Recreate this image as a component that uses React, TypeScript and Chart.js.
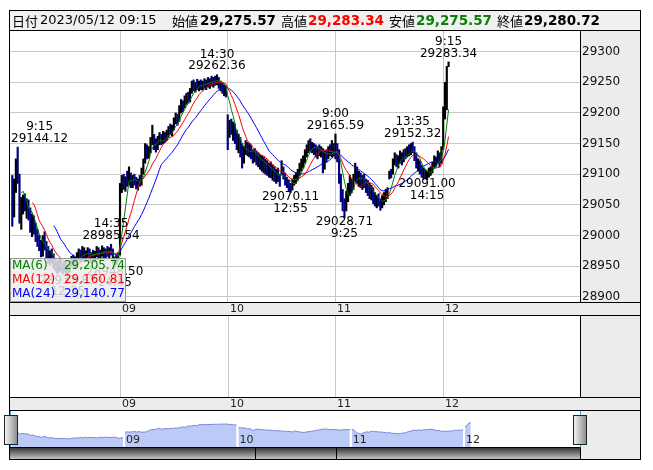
import { useEffect, useRef } from 'react';
import { Chart, registerables } from 'chart.js';

Chart.register(...registerables);

const W = 653;
const H = 470;
const FONT = '"DejaVu Sans", Verdana, sans-serif';
const JP = '"Noto Sans CJK JP", "DejaVu Sans", sans-serif';

// ---- header (latest bar) ----
const headerDate = '2023/05/12 09:15';
const headerOpen = '29,275.57';
const headerHigh = '29,283.34';
const headerLow = '29,275.57';
const headerClose = '29,280.72';

// ---- axis labels ----
const dayLabels = ['09', '10', '11', '12'];
const dayStartIndex = [60, 120, 180, 240];
const yTicks = [28900, 28950, 29000, 29050, 29100, 29150, 29200, 29250, 29300];

// ---- 5-minute bars, 2023/05/08 .. 2023/05/12 ----
const firstOpen = 29090;
const d08High = [29098,29092,29125,29144.12,29100,29062,29066,29068,29060,29058,29045,29035,29032,29020,29010,29000,28992,29000,29006,28990,28982,28975,28978,28970,28962,28958,28960,28962,28955,28958,28956,28950,28958,28966,28968,28965,28972,28978,28976,28982,28980,28975,28980,28978,28972,28976,28974,28982,28980,28976,28983,28980,28978,28982,28980,28985.54,28978,28965,28968,28972];
const d08Low = [29015,29030,29070,29085,29020,29010,29035,29040,29028,29025,29005,28998,29002,28990,28982,28975,28965,28966,28976,28962,28955,28952,28955,28946,28942,28938,28940,28942,28937,28940,28936,28933.83,28940,28948,28950,28946,28955,28960,28956,28958,28962,28958,28963,28960,28955,28958,28956,28965,28962,28960,28966,28964,28962,28966,28962,28968,28955,28948.5,28952,28958];
const d08Close = [29040,29085,29110,29095,29035,29050,29058,29045,29052,29035,29012,29025,29008,28998,28992,28980,28972,28995,28985,28968,28960,28970,28958,28952,28948,28944,28955,28946,28950,28945,28940,28945,28955,28962,28956,28960,28968,28972,28962,28978,28966,28970,28976,28965,28968,28962,28972,28978,28968,28974,28978,28970,28975,28970,28978,28974,28960,28955,28962,28966];

const d09High = [29085,29098,29100,29096,29105,29112,29102,29098,29100,29095,29092,29098,29110,29125,29150,29148,29145,29160,29180,29165,29158,29162,29168,29165,29170,29168,29172,29178,29182,29180,29192,29200,29198,29212,29222,29220,29228,29232,29234,29240,29252,29254,29250,29255,29252,29254,29252,29256,29254,29258,29256,29260,29258,29260,29262.36,29258,29252,29250,29246,29244];
const d09Low = [28968,29070,29075,29072,29080,29082,29078,29078,29082,29076,29074,29080,29082,29100,29118,29125,29126,29135,29148,29140,29136,29140,29148,29148,29150,29152,29155,29160,29165,29162,29172,29182,29180,29186,29200,29202,29208,29214,29216,29218,29232,29236,29234,29238,29236,29238,29237,29240,29238,29242,29240,29244,29242,29245,29246,29240,29236,29232,29228,29226];
const d09Close = [29078,29090,29082,29092,29088,29100,29085,29094,29090,29080,29088,29084,29105,29120,29142,29132,29140,29155,29168,29148,29145,29156,29160,29152,29165,29158,29168,29172,29170,29176,29188,29195,29185,29208,29215,29210,29222,29226,29220,29236,29246,29240,29246,29242,29248,29244,29250,29246,29252,29248,29254,29250,29255,29252,29258,29245,29248,29238,29240,29232];

const d10High = [29197,29188,29190,29185,29182,29172,29165,29160,29150,29145,29155,29152,29150,29148,29140,29142,29138,29135,29132,29130,29128,29125,29122,29118,29120,29115,29112,29108,29110,29100,29122,29112,29102,29095,29090,29085,29092,29098,29102,29108,29118,29125,29130,29140,29148,29155,29158,29152,29150,29148,29145,29148,29145,29142,29138,29140,29145,29148,29155,29150];
const d10Low = [29140,29160,29165,29155,29150,29140,29135,29128,29110,29118,29132,29130,29128,29125,29118,29120,29115,29112,29108,29105,29102,29100,29098,29095,29094,29090,29088,29085,29088,29080,29100,29092,29082,29078,29072,29070.11,29074,29082,29085,29090,29098,29105,29110,29118,29128,29135,29138,29135,29132,29128,29125,29130,29128,29102,29108,29120,29125,29130,29128,29130];
const d10Close = [29170,29182,29170,29178,29160,29150,29158,29135,29120,29140,29148,29138,29145,29132,29125,29135,29122,29128,29115,29120,29110,29118,29105,29110,29100,29105,29095,29100,29092,29088,29110,29098,29090,29084,29078,29076,29088,29092,29098,29104,29112,29120,29125,29135,29142,29150,29145,29148,29140,29135,29142,29138,29140,29125,29132,29128,29138,29135,29140,29136];

const d11High = [29165.59,29150,29140,29100,29075,29060,29072,29085,29098,29092,29100,29118,29112,29105,29102,29098,29100,29092,29090,29085,29082,29078,29070,29065,29068,29060,29065,29070,29075,29078,29105,29108,29125,29135,29132,29130,29138,29135,29140,29142,29145,29148,29150,29152.32,29145,29135,29125,29122,29115,29110,29108,29105,29110,29112,29120,29130,29128,29138,29135,29145];
const d11Low = [29125,29120,29085,29055,29040,29028.71,29040,29055,29065,29070,29075,29088,29085,29080,29078,29075,29078,29070,29065,29060,29058,29052,29048,29045,29048,29041,29045,29050,29055,29060,29092,29094,29100,29115,29112,29110,29118,29115,29120,29125,29128,29130,29132,29135,29122,29110,29105,29100,29095,29092,29093,29091,29095,29098,29102,29110,29112,29118,29112,29118];
const d11Close = [29140,29135,29095,29065,29050,29045,29065,29078,29090,29080,29095,29105,29092,29098,29085,29090,29082,29078,29075,29068,29075,29060,29055,29062,29052,29048,29058,29062,29070,29072,29100,29098,29120,29128,29118,29125,29130,29122,29135,29132,29140,29138,29145,29140,29128,29115,29118,29108,29100,29105,29098,29102,29105,29108,29115,29125,29120,29130,29120,29140];

const d12High = [29210,29250,29276,29283.34];
const d12Low = [29140,29190,29205,29275.57];
const d12Close = [29195,29222,29275.57,29280.72];

// ---- swing high / low annotations ----
const swingBar = [3, 31, 55, 57, 114, 155, 180, 185, 223, 231, 243];
const swingTime = ['9:15', '12:35', '14:35', '14:45', '14:30', '12:55', '9:00', '9:25', '13:35', '14:15', '9:15'];
const swingPrice = [29144.12, 28933.83, 28985.54, 28948.5, 29262.36, 29070.11, 29165.59, 29028.71, 29152.32, 29091.0, 29283.34];
const swingIsHigh = [true, false, true, false, true, false, true, false, true, false, true];

// ---- moving averages legend ----
const maPeriods = [6, 12, 24];
const maNames = ['MA(6)', 'MA(12)', 'MA(24)'];
const maLegendValues = ['29,205.74', '29,160.81', '29,140.77'];
const maColors = ['#008000', '#ff0000', '#0000ff'];

const highs = [...d08High, ...d09High, ...d10High, ...d11High, ...d12High];
const lows = [...d08Low, ...d09Low, ...d10Low, ...d11Low, ...d12Low];
const closes = [...d08Close, ...d09Close, ...d10Close, ...d11Close, ...d12Close];
const opens = closes.map((_, i) => (i === 0 ? firstOpen : closes[i - 1]));

function movingAverage(values: number[], n: number) {
  return values.map((_, i) => {
    if (i < n - 1) return null;
    let s = 0;
    for (let k = i - n + 1; k <= i; k++) s += values[k];
    return s / n;
  });
}

function line(ctx: CanvasRenderingContext2D, x1: number, y1: number, x2: number, y2: number) {
  ctx.beginPath();
  ctx.moveTo(x1, y1);
  ctx.lineTo(x2, y2);
  ctx.stroke();
}

const framePlugin = {
  id: 'frame',
  beforeDraw(chart: any) {
    const ctx: CanvasRenderingContext2D = chart.ctx;
    ctx.save();
    ctx.fillStyle = '#ffffff';
    ctx.fillRect(0, 0, W, H);
    ctx.fillStyle = '#f0f0f0';
    ctx.fillRect(10, 11, 630, 19);
    ctx.fillStyle = '#ececec';
    ctx.fillRect(581, 31, 59, 271);
    ctx.fillRect(10, 303, 630, 12);
    ctx.fillRect(581, 316, 59, 81);
    ctx.fillRect(10, 398, 630, 12);
    ctx.fillRect(581, 411, 59, 48);
    const g = ctx.createLinearGradient(0, 448, 0, 459);
    g.addColorStop(0, '#383838');
    g.addColorStop(1, '#c4c4c4');
    ctx.fillStyle = g;
    ctx.fillRect(10, 448, 570, 11);

    // header text
    ctx.textBaseline = 'middle';
    ctx.textAlign = 'left';
    const ty = 21;
    const seg = (t: string, x: number, font: string, color: string) => {
      ctx.font = font;
      ctx.fillStyle = color;
      ctx.fillText(t, x, ty);
    };
    const lab = `13px ${JP}`;
    const val = `bold 13.5px ${FONT}`;
    seg('日付', 12, lab, '#000');
    seg(headerDate, 40, `13px ${FONT}`, '#000');
    seg('始値', 172, lab, '#000');
    seg(headerOpen, 200, val, '#000');
    seg('高値', 281, lab, '#000');
    seg(headerHigh, 308, val, '#ff0000');
    seg('安値', 389, lab, '#000');
    seg(headerLow, 416, val, '#0a800a');
    seg('終値', 497, lab, '#000');
    seg(headerClose, 524, val, '#000');
    ctx.restore();
  },
  afterDatasetsDraw(chart: any) {
    const ctx: CanvasRenderingContext2D = chart.ctx;
    const xs = chart.scales.x;
    const ys = chart.scales.y;
    const area = chart.chartArea;
    ctx.save();
    ctx.font = `12px ${FONT}`;
    ctx.fillStyle = '#000';
    ctx.textAlign = 'center';
    ctx.textBaseline = 'middle';
    swingBar.forEach((b, k) => {
      const px = xs.getPixelForValue(b);
      const py = ys.getPixelForValue(swingPrice[k]);
      const pText = swingPrice[k].toFixed(2);
      const tText = swingTime[k];
      const w = Math.max(ctx.measureText(pText).width, ctx.measureText(tText).width);
      let cx = px;
      if (cx - w / 2 < area.left + 1) cx = area.left + 1 + w / 2;
      if (cx + w / 2 > area.right - 1) cx = area.right - 1 - w / 2;
      if (swingIsHigh[k]) {
        ctx.fillText(tText, cx, py - 20);
        ctx.fillText(pText, cx, py - 8.5);
      } else {
        ctx.fillText(pText, cx, py + 4.5);
        ctx.fillText(tText, cx, py + 16);
      }
    });

    // MA legend box
    ctx.fillStyle = 'rgba(236,236,236,0.84)';
    ctx.fillRect(10.5, 258.5, 115, 43);
    ctx.strokeStyle = '#9a9a9a';
    ctx.lineWidth = 1;
    ctx.strokeRect(10.5, 258.5, 115, 43);
    const rows = [266, 280, 294];
    maNames.forEach((n, k) => {
      ctx.fillStyle = maColors[k];
      ctx.textAlign = 'left';
      ctx.fillText(n, 12, rows[k]);
      ctx.textAlign = 'right';
      ctx.fillText(maLegendValues[k], 125, rows[k]);
    });
    ctx.restore();
  },
  afterDraw(chart: any) {
    const ctx: CanvasRenderingContext2D = chart.ctx;
    const xs = chart.scales.x;
    ctx.save();
    // panel 2 grid
    ctx.strokeStyle = '#c8c8c8';
    ctx.lineWidth = 1;
    dayStartIndex.forEach((d) => {
      const x = Math.round(xs.getPixelForValue(d)) + 0.5;
      line(ctx, x, 316, x, 397);
    });
    // frame lines
    ctx.strokeStyle = '#000';
    ctx.strokeRect(9.5, 10.5, 631, 449);
    line(ctx, 9.5, 30.5, 640.5, 30.5);
    line(ctx, 580.5, 30.5, 580.5, 302.5);
    line(ctx, 9.5, 302.5, 640.5, 302.5);
    line(ctx, 9.5, 315.5, 640.5, 315.5);
    line(ctx, 580.5, 315.5, 580.5, 397.5);
    line(ctx, 9.5, 397.5, 640.5, 397.5);
    line(ctx, 9.5, 410.5, 640.5, 410.5);
    line(ctx, 9.5, 447.5, 580.5, 447.5);
    line(ctx, 580.5, 447.5, 580.5, 459.5);
    line(ctx, 255.5, 447.5, 255.5, 459.5);
    line(ctx, 336.5, 447.5, 336.5, 459.5);
    // date strips
    ctx.font = `11px ${FONT}`;
    ctx.fillStyle = '#222';
    ctx.textAlign = 'left';
    ctx.textBaseline = 'middle';
    dayStartIndex.forEach((d, k) => {
      const x = Math.round(xs.getPixelForValue(d)) + 2;
      ctx.fillText(dayLabels[k], x, 309.5);
      ctx.fillText(dayLabels[k], x, 404.5);
    });
    ctx.restore();
  },
};

const navPlugin = {
  id: 'navDeco',
  afterDraw(chart: any) {
    const ctx: CanvasRenderingContext2D = chart.ctx;
    const xs = chart.scales.x;
    ctx.save();
    ctx.font = `11px ${FONT}`;
    ctx.fillStyle = '#222';
    ctx.textAlign = 'left';
    ctx.textBaseline = 'middle';
    dayStartIndex.forEach((d, k) => {
      const x = xs.getPixelForValue(d);
      ctx.fillText(dayLabels[k], x + 1, 440);
    });
    // window edges
    ctx.strokeStyle = '#2aa8e0';
    ctx.lineWidth = 1;
    line(ctx, 10.5, 411, 10.5, 447);
    line(ctx, 580.5, 411, 580.5, 447);
    // handles
    const handle = (x0: number) => {
      const g = ctx.createLinearGradient(x0, 0, x0 + 13, 0);
      g.addColorStop(0, '#fafafa');
      g.addColorStop(1, '#8e8e8e');
      ctx.fillStyle = g;
      ctx.fillRect(x0, 415, 13, 29);
      ctx.strokeStyle = '#222';
      ctx.strokeRect(x0 + 0.5, 415.5, 13, 29);
    };
    handle(4);
    handle(573);
    ctx.restore();
  },
};

export default function App() {
  const mainRef = useRef<HTMLCanvasElement>(null);
  const navRef = useRef<HTMLCanvasElement>(null);

  useEffect(() => {
    if (!mainRef.current || !navRef.current) return;

    const barData = closes.map((_, i) => ({ x: i, y: [lows[i], highs[i]] }));
    const barColors = closes.map((c, i) => (c >= opens[i] ? '#000000' : '#000080'));
    const maSets = maPeriods.map((p, k) => ({
      type: 'line' as const,
      data: movingAverage(closes, p).map((v, i) => ({ x: i, y: v })),
      borderColor: maColors[k],
      borderWidth: 1,
      pointRadius: 0,
      tension: 0,
      fill: false,
      order: 1,
    }));

    const main = new Chart(mainRef.current, {
      type: 'bar',
      data: {
        datasets: [
          {
            type: 'bar',
            data: barData as any,
            backgroundColor: barColors,
            borderWidth: 0,
            barThickness: 1.5,
            grouped: false,
            order: 5,
          } as any,
          ...(maSets as any),
        ],
      },
      options: {
        responsive: false,
        animation: false,
        devicePixelRatio: 1,
        events: [],
        layout: { padding: { left: 10, top: 31, right: 13, bottom: 168 } },
        plugins: { legend: { display: false }, tooltip: { enabled: false } },
        scales: {
          x: {
            type: 'linear',
            min: -1.28,
            max: 316.2,
            offset: false,
            grid: { color: '#c8c8c8', drawTicks: false, offset: false },
            border: { display: false },
            ticks: { display: false },
            afterBuildTicks: (s: any) => {
              s.ticks = dayStartIndex.map((v) => ({ value: v }));
            },
            afterFit: (s: any) => {
              s.height = 0;
            },
          },
          y: {
            type: 'linear',
            position: 'right',
            min: 28891.3,
            max: 29333.8,
            grid: { color: '#c8c8c8', drawTicks: false },
            border: { display: false },
            ticks: {
              color: '#111',
              padding: 2,
              font: { family: '"DejaVu Sans", Verdana, sans-serif', size: 12 },
              callback: (v: any) => String(v),
            },
            afterBuildTicks: (s: any) => {
              s.ticks = yTicks.map((v) => ({ value: v }));
            },
            afterFit: (s: any) => {
              s.width = 60;
            },
          },
        },
      } as any,
      plugins: [framePlugin],
    });

    const navPoints: { x: number; y: number | null }[] = [];
    closes.forEach((c, i) => {
      if (dayStartIndex.includes(i)) navPoints.push({ x: i - 0.5, y: null });
      navPoints.push({ x: i, y: c });
    });

    const nav = new Chart(navRef.current, {
      type: 'line',
      data: {
        datasets: [
          {
            data: navPoints as any,
            borderColor: '#7a86d8',
            backgroundColor: '#bccaf7',
            borderWidth: 1,
            pointRadius: 0,
            tension: 0,
            fill: 'start',
            spanGaps: false,
          },
        ],
      },
      options: {
        responsive: false,
        animation: false,
        devicePixelRatio: 1,
        events: [],
        layout: { padding: { left: 10, right: 73, top: 411, bottom: 23 } },
        plugins: { legend: { display: false }, tooltip: { enabled: false } },
        scales: {
          x: { type: 'linear', display: false, min: -0.9, max: 300.85 },
          y: { type: 'linear', display: false, min: 28770, max: 29530 },
        },
      } as any,
      plugins: [navPlugin],
    });

    return () => {
      main.destroy();
      nav.destroy();
    };
  }, []);

  return (
    <div style={{ position: 'fixed', left: 0, top: 0, width: W, height: H }}>
      <canvas ref={mainRef} width={W} height={H} style={{ position: 'absolute', left: 0, top: 0, width: W, height: H }} />
      <canvas ref={navRef} width={W} height={H} style={{ position: 'absolute', left: 0, top: 0, width: W, height: H }} />
    </div>
  );
}
